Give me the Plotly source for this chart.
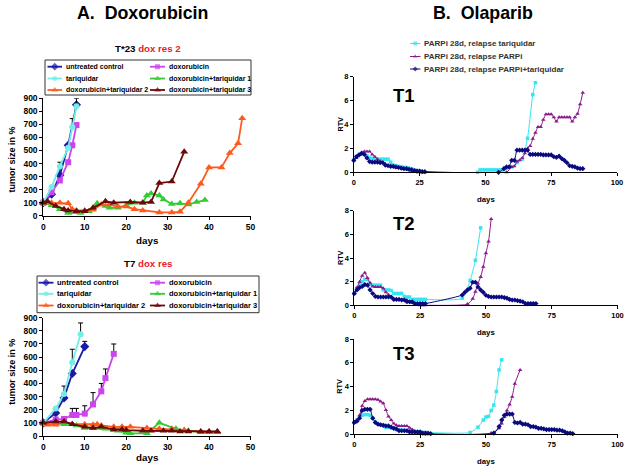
import plotly.graph_objects as go

FONT = "Liberation Sans, Arial, sans-serif"
W, H = 629, 473

# ---------------- Panel A, top: T*23 dox res 2 ----------------
t23_ctrl_day = [0, 2, 4, 6, 8]
t23_ctrl = [100, 165, 310, 540, 850]
t23_ctrl_err = [None, None, 100, None, None]
t23_dox_day = [0, 2, 4, 6, 7, 8]
t23_dox = [100, 180, 270, 410, 540, 695]
t23_tar_day = [0, 2, 4, 6, 7, 8]
t23_tar = [100, 220, 380, 520, 680, 840]
t23_tar_err = [None, None, None, None, 65, 60]
t23_dt1_day = [0, 2, 4, 6, 9, 11, 13, 15, 16, 18, 20, 22, 24, 25, 26, 28, 29, 31, 33, 35, 37, 39]
t23_dt1 = [100, 80, 50, 20, 20, 35, 95, 75, 60, 60, 80, 100, 100, 155, 170, 155, 125, 90, 95, 85, 105, 120]
t23_dt2_day = [0, 2, 4, 6, 7, 8, 10, 12, 14, 16, 18, 20, 22, 24, 28, 31, 33, 35, 38, 40, 43, 45, 47, 48]
t23_dt2 = [100, 100, 100, 95, 50, 40, 40, 45, 85, 85, 70, 70, 50, 40, 25, 25, 30, 100, 245, 370, 370, 480, 555, 748]
t23_dt3_day = [0, 1, 3, 5, 6, 8, 10, 12, 15, 17, 21, 24, 26, 28, 31, 34]
t23_dt3 = [100, 110, 75, 50, 40, 35, 35, 60, 110, 100, 105, 100, 105, 250, 262, 490]

# ---------------- Panel A, bottom: T7 dox res ----------------
t7_ctrl_day = [0, 3, 5, 7, 10]
t7_ctrl = [100, 175, 290, 475, 680]
t7_ctrl_err = [None, None, 90, None, 40]
t7_tar_day = [0, 3, 5, 7, 9]
t7_tar = [100, 210, 320, 560, 775]
t7_tar_err = [None, None, None, 100, 85]
t7_dox_day = [0, 3, 5, 7, 8, 10, 12, 14, 15, 17]
t7_dox = [100, 125, 130, 160, 160, 170, 240, 340, 440, 625]
t7_dox_err = [None, None, None, 50, 50, 60, 90, 60, 70, 75]
t7_dt1_day = [0, 1, 3, 5, 7, 8, 10, 12, 14, 15, 17, 18, 20, 21, 25, 28, 32, 34, 35, 38, 40, 42]
t7_dt1 = [100, 90, 95, 90, 90, 80, 60, 60, 60, 55, 45, 40, 25, 20, 20, 100, 55, 40, 40, 30, 30, 30]
t7_dt2_day = [0, 1, 3, 5, 7, 10, 12, 13, 14, 17, 19, 21, 25, 28, 31, 34, 38, 40, 42]
t7_dt2 = [100, 85, 85, 110, 90, 90, 85, 90, 80, 70, 70, 70, 60, 55, 55, 45, 30, 30, 30]
t7_dt3_day = [0, 3, 5, 7, 10, 12, 14, 17, 19, 20, 24, 26, 29, 31, 33, 35, 38, 40, 42]
t7_dt3 = [100, 110, 110, 90, 70, 60, 70, 50, 50, 45, 40, 40, 40, 40, 35, 35, 35, 35, 35]

a_names = ["untreated control", "doxorubicin", "tariquidar",
           "doxorubicin+tariquidar 1", "doxorubicin+tariquidar 2", "doxorubicin+tariquidar 3"]

# ---------------- Panel B: Olaparib ----------------
b_names = ["PARPi 28d, relapse tariquidar", "PARPi 28d, relapse PARPi",
           "PARPi 28d, relapse PARPi+tariquidar"]

t1_tar_day = [0, 1, 2, 3, 4, 5, 6, 7, 8, 9,
              10, 11, 12, 13, 14, 15, 16, 17, 18, 19,
              20, 21, 22, 23, 24, 25, 26, 47, 48, 49,
              50, 51, 52, 53, 54, 55, 56, 57, 58, 60,
              62, 64, 66, 68, 69]
t1_tar = [1.0, 1.35, 1.5, 1.55, 1.5, 1.4, 1.2, 1.15, 1.1, 1.1,
          1.1, 1.1, 1.1, 1.1, 0.85, 0.6, 0.55, 0.5, 0.45, 0.4,
          0.4, 0.35, 0.3, 0.2, 0.15, 0.1, 0.05, 0.0, 0.2, 0.2,
          0.2, 0.2, 0.2, 0.2, 0.2, 0.2, 0.2, 0.2, 0.35, 0.45,
          0.8, 1.1, 2.85, 6.5, 7.5]
t1_parp_day = [0, 1, 2, 3, 4, 5, 6, 7, 8, 9,
               10, 11, 12, 13, 14, 15, 16, 17, 18, 19,
               20, 21, 22, 23, 24, 25, 26, 27, 58, 60,
               61, 62, 63, 64, 65, 66, 67, 68, 69, 70,
               71, 72, 73, 74, 75, 76, 77, 78, 79, 80,
               81, 82, 83, 84, 85, 86, 87]
t1_parp = [1.0, 1.2, 1.45, 1.6, 1.75, 1.75, 1.75, 1.5, 1.3, 1.1,
           0.95, 0.85, 0.7, 0.6, 0.55, 0.45, 0.4, 0.35, 0.35, 0.3,
           0.25, 0.2, 0.15, 0.1, 0.05, 0.0, 0.0, 0.0, 0.0, 0.45,
           0.5, 0.9, 1.0, 1.2, 1.6, 2.0, 2.2, 2.8, 3.3, 3.8,
           3.8, 4.4, 4.85, 4.85, 4.85, 4.6, 4.25, 4.6, 4.6, 4.6,
           4.6, 4.6, 4.25, 4.6, 4.9, 5.7, 6.65]
t1_comb_day = [0, 1, 2, 3, 4, 5, 6, 7, 8, 9,
               10, 11, 12, 13, 14, 15, 16, 17, 18, 19,
               20, 21, 22, 23, 24, 25, 26, 27, 55, 57,
               58, 59, 60, 61, 62, 63, 64, 65, 66, 67,
               68, 69, 70, 71, 72, 73, 74, 75, 76, 77,
               78, 79, 80, 81, 82, 83, 84, 85, 86, 87]
t1_comb = [1.0, 1.3, 1.45, 1.6, 1.5, 1.2, 0.9, 0.85, 0.85, 0.85,
           0.8, 0.8, 0.6, 0.55, 0.5, 0.5, 0.45, 0.4, 0.35, 0.3,
           0.3, 0.25, 0.2, 0.15, 0.1, 0.1, 0.05, 0.05, 0.0, 0.3,
           0.45, 0.45, 1.0, 1.0, 1.85, 1.85, 1.85, 1.85, 1.85, 1.5,
           1.5, 1.5, 1.5, 1.5, 1.45, 1.45, 1.45, 1.45, 1.3, 1.25,
           1.35, 1.15, 1.0, 0.8, 0.55, 0.5, 0.45, 0.35, 0.3, 0.3]

t2_tar_day = [0, 1, 2, 3, 4, 5, 6, 7, 8, 9,
              10, 11, 12, 13, 14, 15, 16, 17, 18, 19,
              20, 21, 22, 23, 24, 25, 26, 27, 41, 44,
              46, 48]
t2_tar = [1.0, 1.4, 1.8, 2.0, 2.2, 2.2, 1.75, 1.7, 1.7, 1.7,
          1.7, 1.3, 1.3, 1.3, 1.25, 1.0, 1.0, 1.0, 1.0, 0.75,
          0.7, 0.7, 0.5, 0.5, 0.5, 0.5, 0.5, 0.5, 0.6, 2.1,
          3.8, 6.55]
t2_parp_day = [0, 1, 2, 3, 4, 5, 6, 7, 8, 9,
               10, 11, 12, 13, 14, 15, 16, 17, 18, 19,
               20, 21, 22, 23, 24, 25, 26, 27, 43, 45,
               46, 47, 48, 49, 50, 51, 52]
t2_parp = [1.0, 1.5, 2.0, 2.5, 2.75, 2.3, 1.9, 1.6, 1.55, 1.55,
           1.55, 1.45, 1.1, 0.9, 0.7, 0.55, 0.5, 0.5, 0.5, 0.5,
           0.45, 0.3, 0.2, 0.15, 0.05, 0.0, 0.0, 0.0, 0.1, 0.55,
           1.15, 1.85, 2.4, 3.25, 4.4, 5.4, 7.3]
t2_comb_day = [0, 1, 2, 3, 4, 5, 6, 7, 8, 9,
               10, 11, 12, 13, 14, 15, 16, 17, 18, 19,
               20, 21, 22, 23, 24, 25, 26, 27, 41, 42,
               43, 44, 45, 46, 47, 48, 49, 50, 51, 52,
               53, 54, 55, 56, 57, 58, 59, 60, 61, 62,
               63, 64, 65, 66, 67, 68, 69]
t2_comb = [1.0, 1.3, 1.5, 1.6, 1.75, 1.7, 1.3, 1.0, 0.75, 0.7,
           0.7, 0.7, 0.7, 0.7, 0.7, 0.5, 0.5, 0.5, 0.45, 0.45,
           0.3, 0.3, 0.3, 0.15, 0.15, 0.15, 0.15, 0.15, 0.87, 1.1,
           1.3, 1.45, 1.95, 1.95, 1.55, 1.3, 1.1, 0.85, 0.75, 0.7,
           0.7, 0.7, 0.7, 0.7, 0.65, 0.6, 0.5, 0.45, 0.45, 0.4,
           0.35, 0.3, 0.15, 0.15, 0.15, 0.15, 0.15]

t3_tar_day = [0, 1, 2, 3, 4, 5, 6, 7, 8, 9,
              10, 11, 12, 13, 14, 15, 16, 17, 18, 19,
              20, 21, 22, 23, 24, 25, 26, 27, 44, 47,
              49, 50, 51, 52, 53, 54, 55, 56]
t3_tar = [1.0, 1.2, 1.45, 1.6, 1.65, 1.65, 1.6, 1.35, 1.0, 0.85,
          0.8, 0.75, 0.6, 0.6, 0.55, 0.5, 0.4, 0.4, 0.35, 0.35,
          0.3, 0.3, 0.25, 0.2, 0.2, 0.2, 0.15, 0.15, 0.15, 0.6,
          1.2, 1.45, 1.5, 2.0, 2.45, 3.6, 5.4, 6.25]
t3_parp_day = [0, 1, 2, 3, 4, 5, 6, 7, 8, 9,
               10, 11, 12, 13, 14, 15, 16, 17, 18, 19,
               20, 21, 22, 23, 24, 25, 26, 27, 52, 55,
               56, 57, 58, 59, 60, 61, 63]
t3_parp = [1.0, 1.2, 1.6, 2.4, 2.8, 2.95, 2.95, 2.95, 2.95, 2.9,
           2.75, 2.6, 2.05, 1.5, 1.2, 0.9, 0.75, 0.7, 0.7, 0.7,
           0.7, 0.55, 0.4, 0.25, 0.15, 0.1, 0.05, 0.0, 0.1, 0.5,
           0.9, 1.45, 2.0, 2.5, 3.15, 4.25, 5.4]
t3_comb_day = [0, 1, 2, 3, 4, 5, 6, 7, 8, 9,
               10, 11, 12, 13, 14, 15, 16, 17, 18, 19,
               20, 21, 22, 23, 24, 25, 26, 27, 28, 29,
               53, 55, 56, 57, 58, 59, 60, 61, 62, 63,
               64, 65, 66, 67, 68, 69, 70, 71, 72, 73,
               74, 75, 76, 77, 78, 79, 80, 81, 82, 83]
t3_comb = [1.0, 1.1, 1.35, 2.0, 2.1, 2.1, 2.1, 1.35, 1.0, 0.85,
           0.8, 0.75, 0.7, 0.7, 0.6, 0.5, 0.45, 0.3, 0.3, 0.3,
           0.3, 0.2, 0.2, 0.2, 0.2, 0.2, 0.1, 0.1, 0.1, 0.05,
           0.1, 0.65, 1.2, 1.6, 1.7, 1.7, 1.7, 1.0, 0.95, 1.0,
           0.85, 0.85, 0.8, 0.65, 0.65, 0.6, 0.5, 0.5, 0.45, 0.4,
           0.4, 0.4, 0.4, 0.35, 0.35, 0.3, 0.2, 0.1, 0.1, 0.05]

# ---------------- styles ----------------
A_COLORS = ["#1a1aa6", "#cc44ee", "#72eee6", "#33cc33", "#ff5a1e", "#6b0a0a"]
A_SYMBOLS = ["diamond", "square", "circle", "triangle-up", "triangle-up", "triangle-up"]
A_SIZES = [7, 6, 6, 7, 7, 7]
B_COLORS = ["#33e6f2", "#8c1a8c", "#0a0a80"]
B_SYMBOLS = ["square", "triangle-up", "diamond"]
B_SIZES = [3.5, 4, 4]
RED = "#e8202a"

fig = go.Figure()


def add_series(x, y, i, palette, symbols, sizes, lw, xa, ya, err=None, shape="linear", tag=""):
    if len(x) != len(y):
        raise ValueError(f"length mismatch {tag}: {len(x)} vs {len(y)}")
    tr = dict(x=x, y=y, mode="lines+markers", showlegend=False, hoverinfo="skip",
              line=dict(color=palette[i], width=lw, shape=shape, smoothing=0.6),
              marker=dict(color=palette[i], symbol=symbols[i], size=sizes[i], line=dict(width=0)),
              xaxis=xa, yaxis=ya, cliponaxis=False)
    if err is not None:
        tr["error_y"] = dict(type="data", symmetric=False, array=err,
                             arrayminus=[0 if e is not None else None for e in err],
                             color="black", thickness=1, width=2.5)
    fig.add_trace(go.Scatter(**tr))


a_top = [(t23_ctrl_day, t23_ctrl, t23_ctrl_err), (t23_dox_day, t23_dox, None),
         (t23_tar_day, t23_tar, t23_tar_err), (t23_dt1_day, t23_dt1, None),
         (t23_dt2_day, t23_dt2, None), (t23_dt3_day, t23_dt3, None)]
for i, (x, y, e) in enumerate(a_top):
    add_series(x, y, i, A_COLORS, A_SYMBOLS, A_SIZES, 1.8, "x", "y", e, tag=f"top{i}")

a_bot = [(t7_ctrl_day, t7_ctrl, t7_ctrl_err), (t7_dox_day, t7_dox, t7_dox_err),
         (t7_tar_day, t7_tar, t7_tar_err), (t7_dt1_day, t7_dt1, None),
         (t7_dt2_day, t7_dt2, None), (t7_dt3_day, t7_dt3, None)]
for i, (x, y, e) in enumerate(a_bot):
    add_series(x, y, i, A_COLORS, A_SYMBOLS, A_SIZES, 1.8, "x2", "y2", e, tag=f"bot{i}")

b_panels = [("x3", "y3", [(t1_tar_day, t1_tar), (t1_parp_day, t1_parp), (t1_comb_day, t1_comb)]),
            ("x4", "y4", [(t2_tar_day, t2_tar), (t2_parp_day, t2_parp), (t2_comb_day, t2_comb)]),
            ("x5", "y5", [(t3_tar_day, t3_tar), (t3_parp_day, t3_parp), (t3_comb_day, t3_comb)])]
for xa, ya, series in b_panels:
    for i in [0, 1, 2]:
        x, y = series[i]
        add_series(x, y, i, B_COLORS, B_SYMBOLS, B_SIZES, 1, xa, ya, None, shape="spline",
                   tag=f"{xa}-{i}")

# ---------------- legends drawn on a pixel overlay axis ----------------
ann = []
shapes = []


def legend_item(lx0, lx1, ly, i, palette, symbols, msize, lw, text, fsize, bold=True, color="black"):
    fig.add_trace(go.Scatter(x=[lx0, (lx0 + lx1) / 2, lx1], y=[ly, ly, ly], mode="lines+markers",
                             showlegend=False, hoverinfo="skip", cliponaxis=False,
                             line=dict(color=palette[i], width=lw),
                             marker=dict(color=palette[i], symbol=symbols[i], size=[0, msize, 0],
                                         line=dict(width=0)),
                             xaxis="x6", yaxis="y6"))
    ann.append(dict(x=lx1 + 1.5, y=ly, xref="x6", yref="y6", text=text, showarrow=False,
                    xanchor="left", yanchor="middle",
                    font=dict(family=FONT, size=fsize, color=color, weight="bold" if bold else "normal")))


rows = [66.7, 78.5, 90]
cols = [(47.5, 62), (150, 165)]
for k in range(6):
    r, c = divmod(k, 2)
    legend_item(cols[c][0], cols[c][1], rows[r], k, A_COLORS, A_SYMBOLS, A_SIZES[k] - 1, 1.8,
                a_names[k], 7.0)
shapes.append(dict(type="rect", xref="x6", yref="y6", x0=45, x1=251, y0=60, y1=95,
                   line=dict(color="#333", width=1)))
rows = [282.7, 293.8, 305.5]
cols = [(38.5, 53.5), (150, 165)]
for k in range(6):
    r, c = divmod(k, 2)
    legend_item(cols[c][0], cols[c][1], rows[r], k, A_COLORS, A_SYMBOLS, A_SIZES[k] - 1, 1.8,
                a_names[k], 7.5)
shapes.append(dict(type="rect", xref="x6", yref="y6", x0=37, x1=259, y0=276, y1=312.7,
                   line=dict(color="#333", width=1)))
for k, ry in enumerate([43.5, 56.5, 69]):
    legend_item(410, 420.5, ry, k, B_COLORS, B_SYMBOLS, 4, 1, b_names[k], 8, bold=True, color="#333")


def txt(x, y, text, size, angle=0, color="black", bold=True):
    ann.append(dict(x=x, y=y, xref="x6", yref="y6", text=text, showarrow=False,
                    xanchor="center", yanchor="middle", textangle=angle,
                    font=dict(family=FONT, size=size, color=color, weight="bold" if bold else "normal")))


txt(142.8, 12.5, "A.\u00a0\u00a0Doxorubicin", 17.8)
txt(482.5, 12.5, "B.\u00a0\u00a0Olaparib", 17.8)
txt(147.5, 48.3, f"T*23 <span style='color:{RED}'>dox res 2</span>", 9.7)
txt(147.5, 263, f"T7 <span style='color:{RED}'>dox res</span>", 9.7)
txt(11.7, 159.7, "tumor size in %", 9, angle=-90)
txt(11.7, 372, "tumor size in %", 9, angle=-90)
txt(147.5, 240, "days", 9.8)
txt(147.5, 457.7, "days", 9.8)
for ty, dy, ry, lab in [(95, 199, 124.5, "T1"), (223.3, 332.3, 258, "T2"), (353.3, 461.7, 386.7, "T3")]:
    txt(404, ty, lab, 18.5)
    txt(485.7, dy, "days", 7.8)
    txt(340, ry, "RTV", 7.2, angle=-90)


def ax(domain, rng, dtick, anchor, fsize):
    return dict(domain=domain, range=rng, dtick=dtick, tick0=0, anchor=anchor, showgrid=False,
                zeroline=False, showline=True, linecolor="black", linewidth=1, ticks="outside",
                ticklen=3, tickcolor="black", tickwidth=1, fixedrange=True, automargin=False,
                tickfont=dict(family=FONT, size=fsize, color="black", weight="bold"))


def px_x(a, b):
    return [a / W, b / W]


def px_y(top, bottom):
    return [1 - bottom / H, 1 - top / H]


layout = dict(
    width=W, height=H, margin=dict(l=0, r=0, t=0, b=0), paper_bgcolor="white",
    plot_bgcolor="rgba(0,0,0,0)", showlegend=False,
    xaxis=ax(px_x(43.3, 250.5), [0, 50], 10, "y", 8.5),
    yaxis=ax(px_y(98.3, 215.7), [0, 900], 100, "x", 8.5),
    xaxis2=ax(px_x(43.3, 250.5), [0, 50], 10, "y2", 8.5),
    yaxis2=ax(px_y(317.7, 436), [0, 900], 100, "x2", 8.5),
    xaxis3=ax(px_x(353.8, 617), [0, 100], 25, "y3", 7.5),
    yaxis3=ax(px_y(76.7, 172.3), [0, 8], 2, "x3", 7.5),
    xaxis4=ax(px_x(354.3, 617.5), [0, 100], 25, "y4", 7.5),
    yaxis4=ax(px_y(210.7, 305.3), [0, 8], 2, "x4", 7.5),
    xaxis5=ax(px_x(354.3, 617.5), [0, 100], 25, "y5", 7.5),
    yaxis5=ax(px_y(339, 434.3), [0, 8], 2, "x5", 7.5),
    xaxis6=dict(domain=[0, 1], range=[0, W], visible=False, fixedrange=True, anchor="y6"),
    yaxis6=dict(domain=[0, 1], range=[H, 0], visible=False, fixedrange=True, anchor="x6"),
    annotations=ann, shapes=shapes,
)
fig.update_layout(**layout)
fig.write_html("out.html", config={"displayModeBar": False},
               post_script="document.body.style.margin='0px';")
